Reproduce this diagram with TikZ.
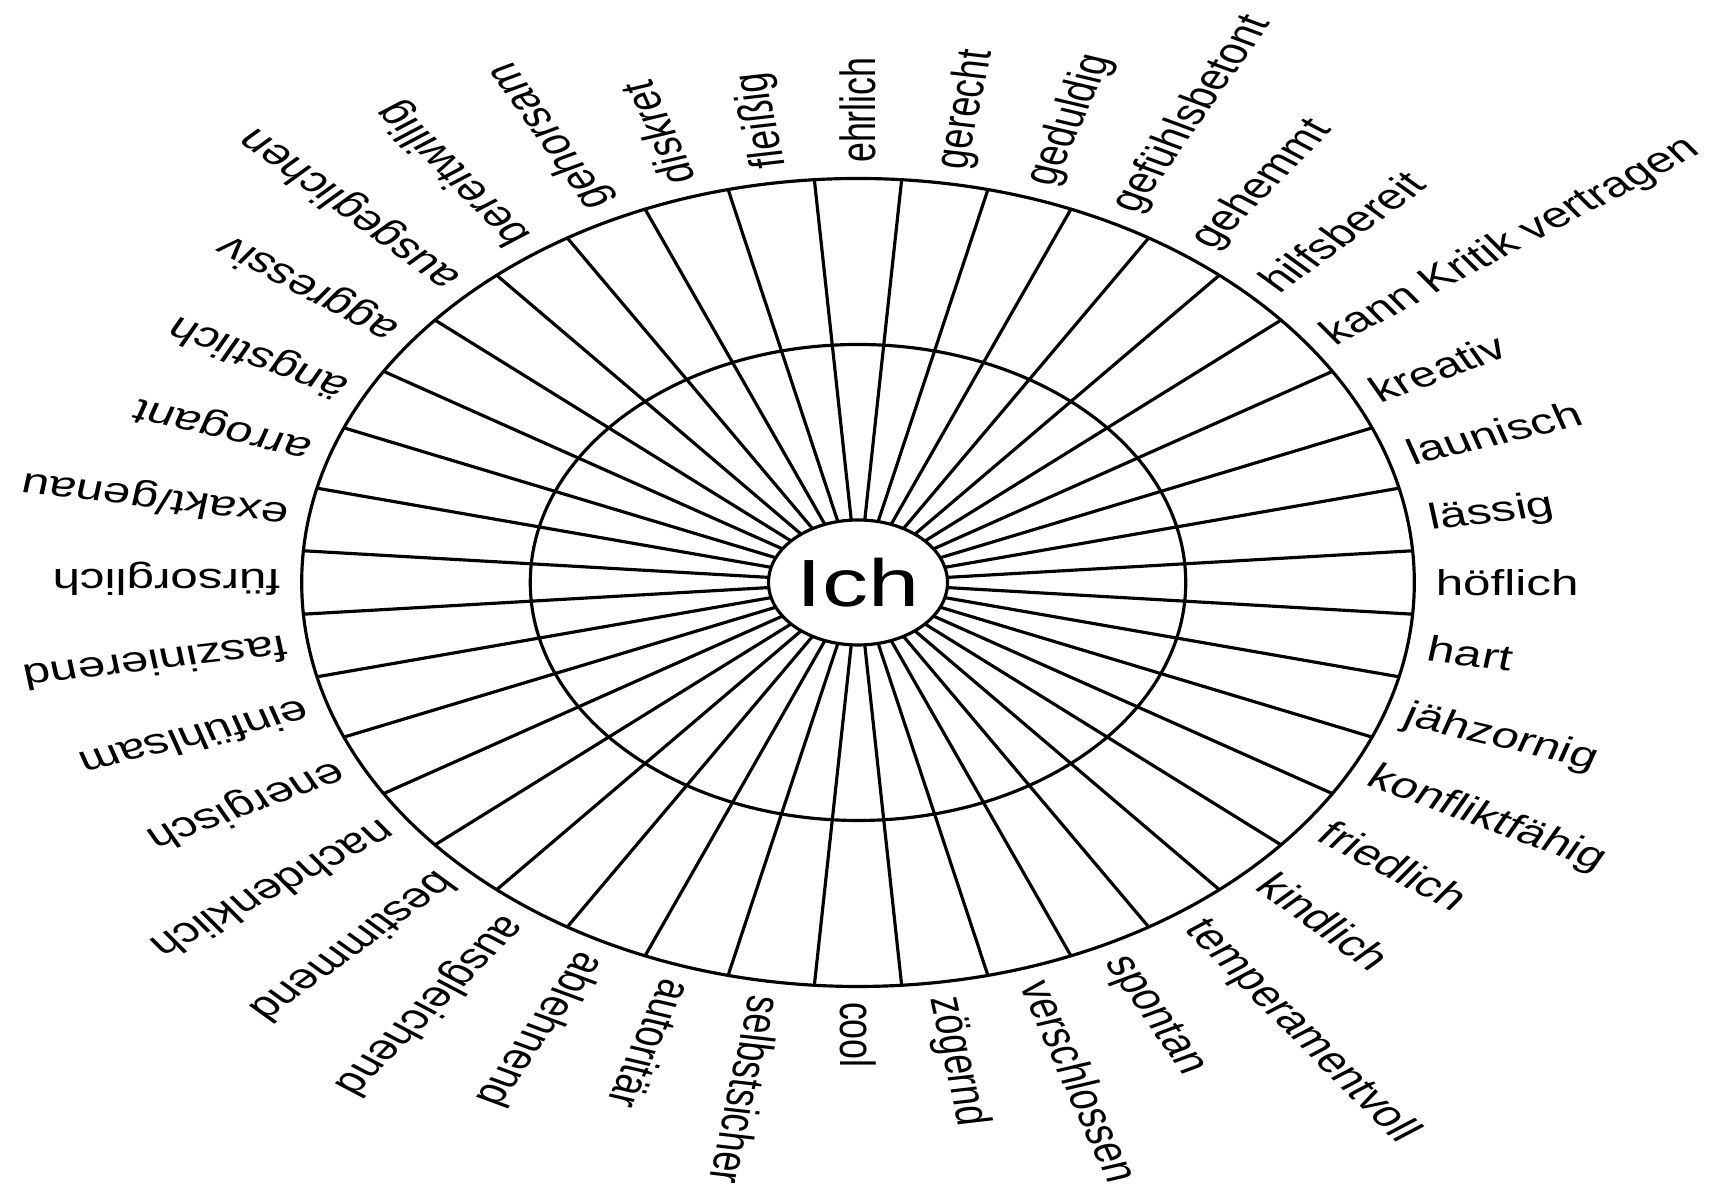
\documentclass[tikz,border=0pt]{standalone}
\usepackage{fontspec}
\setmainfont{Liberation Sans}
\usetikzlibrary{shapes.geometric}
\tikzset{
	eigenschaft/.style={anchor=west, inner sep=0pt, text height=7.4pt, text depth=0pt, font=\fontsize{10.2}{12}\selectfont},
	ichfeld/.style={draw, ellipse, fill=white, minimum width=1.30cm, minimum height=1.25cm, inner sep=0pt, font=\fontsize{19}{22}\selectfont}
}
\begin{document}
\begin{tikzpicture}[scale=1.0]
	\useasboundingbox (0,0) rectangle (17.15,11.90);
	\begin{scope}[shift={(8.58,6.075)}, xscale=1.377, transform shape, line width=0.9pt]
		\foreach \i in {0,...,39}
			\draw ({94.5-9*\i}:0.6) -- ({94.5-9*\i}:4.04);
		\draw (0,0) circle (4.04);
		\draw (0,0) circle (2.38);
		\node[ichfeld] (ich) at (0,0) {Ich};
		\foreach \wort [count=\i from 0, evaluate=\i as \a using 90-9*\i] in {ehrlich, gerecht, geduldig, gefühlsbetont, gehemmt, hilfsbereit, kann Kritik vertragen, kreativ, launisch, lässig, höflich, hart, jähzornig, konfliktfähig, friedlich, kindlich, temperamentvoll, spontan, verschlossen, zögernd, cool, selbstsicher, autoritär, ablehnend, ausgleichend, bestimmend, nachdenklich, energisch, einfühlsam, faszinierend, fürsorglich, {exakt/genau}, arrogant, ängstlich, aggressiv, ausgeglichen, bereitwillig, gehorsam, diskret, fleißig}
			\node[eigenschaft, rotate=\a] (w\i) at (\a:4.18) {\wort};
	\end{scope}
\end{tikzpicture}
\end{document}
